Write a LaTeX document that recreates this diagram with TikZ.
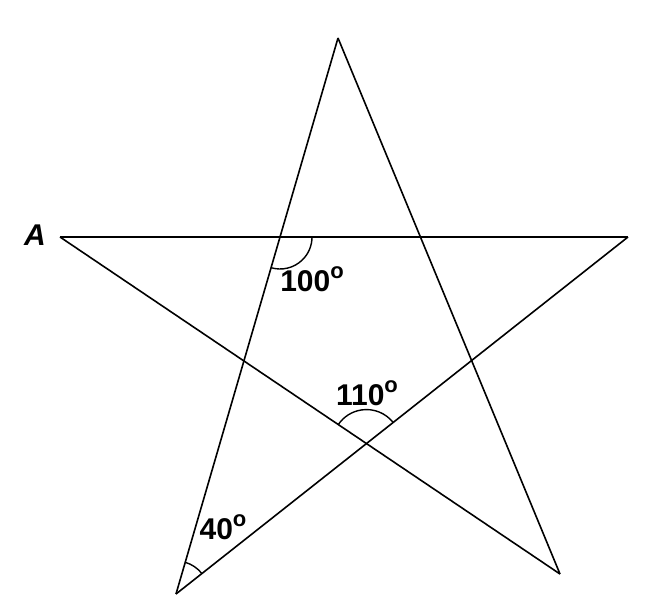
\documentclass[tikz,border=0pt]{standalone}
\usepackage{fontspec}
\setmainfont{Liberation Sans}
\usetikzlibrary{angles}
\newcommand{\degsup}{\raisebox{13pt}{\fontsize{22}{22}\selectfont o}}
\begin{document}
\begin{tikzpicture}[x=1pt,y=-1pt,line width=1.6pt,
    deg/.style={font=\fontsize{30}{32}\selectfont\bfseries,inner sep=0pt},
    anglearc/.style={draw,line width=1.4pt}]
  \useasboundingbox (0,0) rectangle (648,612);
  \coordinate (T) at (338,38);
  \coordinate (A) at (60,237);
  \coordinate (R) at (628,237);
  \coordinate (BL) at (176,594);
  \coordinate (BR) at (560,574);
  \draw (A) -- (R);
  \draw (T) -- (BL);
  \draw (T) -- (BR);
  \draw (A) -- (BR);
  \draw (R) -- (BL);
  \coordinate (P) at (intersection of A--R and T--BL);
  \coordinate (X) at (intersection of A--BR and R--BL);
  \pic [anglearc,angle radius=32pt] {angle = BL--P--R};
  \pic [anglearc,angle radius=34pt] {angle = R--X--A};
  \pic [anglearc,angle radius=33pt] {angle = R--BL--T};
  \node [deg] (labA) at (35,235) {\textit{A}};
  \node [deg] (lab100) at (312,279) {100\degsup};
  \node [deg] (lab110) at (367,393) {110\degsup};
  \node [deg] (lab40) at (223,527) {40\degsup};
\end{tikzpicture}
\end{document}
